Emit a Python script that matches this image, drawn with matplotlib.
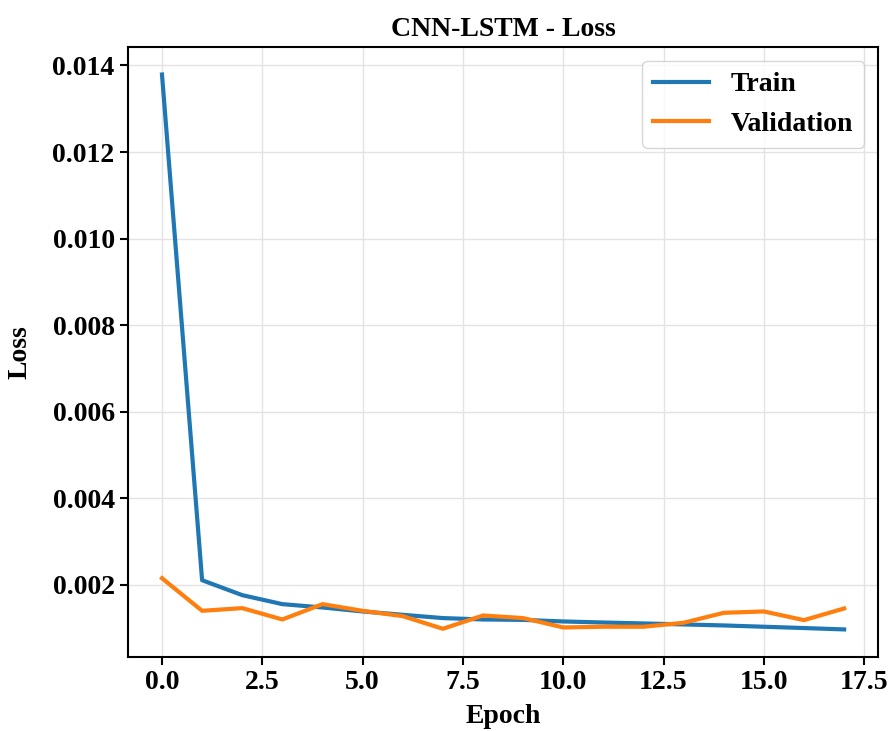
import numpy as np
import matplotlib.pyplot as plt

plt.rcParams['font.family'] = ['Liberation Serif', 'DejaVu Serif']
plt.rcParams['font.weight'] = 'bold'

# per-epoch loss history
epochs = np.arange(18)
train_loss = [0.01379, 0.002107, 0.001762, 0.001554, 0.001477, 0.001385,
              0.001308, 0.001232, 0.001200, 0.001190, 0.001154, 0.001130,
              0.001108, 0.001085, 0.001062, 0.001032, 0.001002, 0.000970]
val_loss = [0.002153, 0.001400, 0.001462, 0.001200, 0.001554, 0.001400,
            0.001277, 0.000985, 0.001292, 0.001232, 0.001016, 0.001032,
            0.001032, 0.001124, 0.001354, 0.001385, 0.001185, 0.001454]

fig = plt.figure(figsize=(8.88, 7.31), dpi=100)
ax = fig.add_axes([0.144, 0.101, 0.845, 0.835])

ax.plot(epochs, train_loss, color='#1f77b4', lw=3, label='Train')
ax.plot(epochs, val_loss, color='#ff7f0e', lw=3, label='Validation')

ax.set_title('CNN-LSTM - Loss', fontsize=20, fontweight='bold', pad=8)
ax.set_xlabel('Epoch', fontsize=20, fontweight='bold', labelpad=6)
ax.set_ylabel('Loss', fontsize=20, fontweight='bold', labelpad=14)
ax.tick_params(labelsize=20, width=1.5, length=6)
for lbl in ax.get_xticklabels() + ax.get_yticklabels():
    lbl.set_fontweight('bold')
for sp in ax.spines.values():
    sp.set_linewidth(1.5)

ax.grid(True, color='#e3e3e3', lw=1)
ax.legend(loc='upper right', fontsize=20, prop={'weight': 'bold', 'size': 20})

fig.savefig('out.png', dpi=100)
